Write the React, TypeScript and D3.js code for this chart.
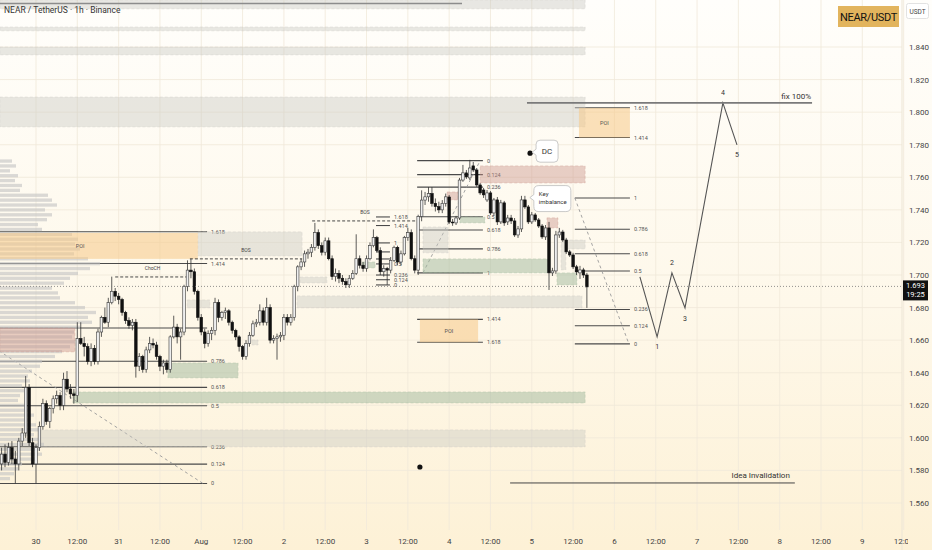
import React from "react";
import * as d3 from "d3";

const W = 932;
const H = 550;
const PLOT_R = 902;
const PLOT_B = 530;

// hour offsets are counted from Jul 30 00:00 UTC
const T0 = Date.UTC(2025, 6, 30, 0);
const HOUR = 3600 * 1000;
const at = (h: number) => new Date(T0 + h * HOUR);

// hourly candles [open, high, low, close], the first one opens at hour -10
const firstHour = -10;
const candles: [number, number, number, number][] = [
  [1.584, 1.594, 1.58, 1.59], [1.59, 1.596, 1.582, 1.585], [1.585, 1.597, 1.583, 1.594],
  [1.594, 1.598, 1.584, 1.587], [1.587, 1.592, 1.572, 1.584], [1.584, 1.6, 1.58, 1.598],
  [1.598, 1.606, 1.595, 1.603], [1.603, 1.638, 1.6, 1.631], [1.631, 1.633, 1.595, 1.597],
  [1.597, 1.6, 1.582, 1.584], [1.584, 1.596, 1.572, 1.594], [1.594, 1.61, 1.592, 1.607],
  [1.607, 1.624, 1.605, 1.621], [1.621, 1.623, 1.608, 1.61], [1.61, 1.619, 1.606, 1.618],
  [1.618, 1.626, 1.615, 1.624], [1.624, 1.629, 1.621, 1.626], [1.626, 1.628, 1.617, 1.62],
  [1.62, 1.64, 1.617, 1.636], [1.636, 1.641, 1.628, 1.63], [1.63, 1.633, 1.624, 1.627],
  [1.627, 1.63, 1.621, 1.626], [1.626, 1.671, 1.622, 1.661], [1.661, 1.671, 1.657, 1.658],
  [1.658, 1.662, 1.65, 1.656], [1.656, 1.658, 1.645, 1.647], [1.647, 1.658, 1.644, 1.655],
  [1.655, 1.657, 1.645, 1.647], [1.647, 1.667, 1.645, 1.665], [1.665, 1.675, 1.662, 1.674],
  [1.674, 1.68, 1.67, 1.671], [1.671, 1.686, 1.668, 1.683], [1.683, 1.699, 1.682, 1.69],
  [1.69, 1.692, 1.684, 1.687], [1.687, 1.689, 1.682, 1.685], [1.685, 1.686, 1.675, 1.677],
  [1.677, 1.678, 1.67, 1.672], [1.672, 1.674, 1.667, 1.669], [1.669, 1.673, 1.666, 1.671],
  [1.671, 1.673, 1.637, 1.644], [1.644, 1.652, 1.641, 1.65], [1.65, 1.651, 1.64, 1.642],
  [1.642, 1.656, 1.64, 1.654], [1.654, 1.662, 1.652, 1.658], [1.658, 1.661, 1.655, 1.657],
  [1.657, 1.659, 1.648, 1.65], [1.65, 1.651, 1.641, 1.644], [1.644, 1.648, 1.639, 1.646],
  [1.646, 1.648, 1.64, 1.642], [1.642, 1.663, 1.64, 1.662], [1.662, 1.675, 1.661, 1.668],
  [1.668, 1.67, 1.658, 1.662], [1.662, 1.667, 1.648, 1.665], [1.665, 1.694, 1.663, 1.693],
  [1.693, 1.709, 1.69, 1.703], [1.703, 1.71, 1.698, 1.702], [1.702, 1.704, 1.688, 1.69],
  [1.69, 1.691, 1.672, 1.674], [1.674, 1.676, 1.663, 1.665], [1.665, 1.667, 1.655, 1.658],
  [1.658, 1.666, 1.656, 1.664], [1.664, 1.668, 1.66, 1.666], [1.666, 1.686, 1.663, 1.683],
  [1.683, 1.685, 1.671, 1.674], [1.674, 1.678, 1.672, 1.677], [1.677, 1.68, 1.673, 1.678],
  [1.678, 1.679, 1.669, 1.671], [1.671, 1.672, 1.664, 1.666], [1.666, 1.667, 1.66, 1.662],
  [1.662, 1.663, 1.653, 1.656], [1.656, 1.657, 1.648, 1.65], [1.65, 1.66, 1.648, 1.658],
  [1.658, 1.665, 1.656, 1.663], [1.663, 1.672, 1.662, 1.67], [1.67, 1.673, 1.668, 1.671],
  [1.671, 1.682, 1.669, 1.678], [1.678, 1.68, 1.669, 1.671], [1.671, 1.686, 1.669, 1.68],
  [1.68, 1.682, 1.658, 1.66], [1.66, 1.663, 1.658, 1.661], [1.661, 1.664, 1.648, 1.662],
  [1.662, 1.665, 1.659, 1.663], [1.663, 1.676, 1.66, 1.674], [1.674, 1.676, 1.669, 1.671],
  [1.671, 1.676, 1.669, 1.674], [1.674, 1.694, 1.672, 1.693], [1.693, 1.706, 1.69, 1.705],
  [1.705, 1.71, 1.703, 1.708], [1.708, 1.715, 1.705, 1.713], [1.713, 1.716, 1.71, 1.714],
  [1.714, 1.719, 1.711, 1.717], [1.717, 1.732, 1.715, 1.726], [1.726, 1.728, 1.716, 1.718],
  [1.718, 1.72, 1.712, 1.714], [1.714, 1.723, 1.712, 1.721], [1.721, 1.723, 1.709, 1.71],
  [1.71, 1.712, 1.697, 1.699], [1.699, 1.704, 1.696, 1.701], [1.701, 1.703, 1.695, 1.698],
  [1.698, 1.7, 1.694, 1.696], [1.696, 1.698, 1.692, 1.694], [1.694, 1.7, 1.692, 1.698],
  [1.698, 1.703, 1.697, 1.701], [1.701, 1.725, 1.7, 1.71], [1.71, 1.712, 1.704, 1.706],
  [1.706, 1.708, 1.702, 1.704], [1.704, 1.712, 1.702, 1.71], [1.71, 1.72, 1.709, 1.718],
  [1.718, 1.728, 1.717, 1.723], [1.723, 1.724, 1.714, 1.715], [1.715, 1.717, 1.7, 1.702],
  [1.702, 1.706, 1.699, 1.704], [1.704, 1.705, 1.694, 1.703], [1.703, 1.711, 1.701, 1.709],
  [1.709, 1.718, 1.708, 1.717], [1.717, 1.718, 1.706, 1.708], [1.708, 1.715, 1.706, 1.713],
  [1.713, 1.724, 1.712, 1.723], [1.723, 1.729, 1.721, 1.726], [1.726, 1.728, 1.709, 1.71],
  [1.71, 1.712, 1.701, 1.703], [1.703, 1.737, 1.7, 1.736], [1.736, 1.752, 1.733, 1.746],
  [1.746, 1.751, 1.743, 1.748], [1.748, 1.754, 1.745, 1.75], [1.75, 1.754, 1.742, 1.744],
  [1.744, 1.747, 1.739, 1.742], [1.742, 1.745, 1.738, 1.74], [1.74, 1.746, 1.738, 1.744],
  [1.744, 1.75, 1.742, 1.748], [1.7479, 1.7491, 1.7313, 1.7325], [1.7325, 1.7344, 1.7302, 1.732],
  [1.732, 1.7363, 1.7307, 1.735], [1.735, 1.7596, 1.7338, 1.7583], [1.7583, 1.7676, 1.7572, 1.7627],
  [1.7627, 1.7645, 1.759, 1.7602], [1.7596, 1.7707, 1.7583, 1.7657], [1.767, 1.7694, 1.7633, 1.7645],
  [1.7645, 1.7657, 1.7541, 1.7553], [1.7553, 1.7565, 1.7492, 1.7504], [1.7522, 1.7535, 1.7473, 1.7492],
  [1.7461, 1.7522, 1.7449, 1.7504], [1.7504, 1.7516, 1.7369, 1.7381], [1.7381, 1.7473, 1.7363, 1.7461],
  [1.7461, 1.7479, 1.7307, 1.7326], [1.7326, 1.7461, 1.7313, 1.7443], [1.7443, 1.7455, 1.7302, 1.732],
  [1.7326, 1.7369, 1.7307, 1.735], [1.735, 1.7369, 1.7313, 1.7332], [1.7332, 1.735, 1.7234, 1.7246],
  [1.7246, 1.7301, 1.7228, 1.7283], [1.7283, 1.7486, 1.7264, 1.7461], [1.7461, 1.7486, 1.7406, 1.7418],
  [1.7418, 1.743, 1.7313, 1.7326], [1.7326, 1.7387, 1.7313, 1.7369], [1.7369, 1.7381, 1.7326, 1.7338],
  [1.7338, 1.735, 1.7289, 1.7301], [1.7301, 1.7313, 1.7222, 1.7234], [1.7234, 1.7307, 1.7215, 1.7289],
  [1.7289, 1.7326, 1.6908, 1.7013], [1.7013, 1.7044, 1.6994, 1.7025], [1.7025, 1.7271, 1.7007, 1.7246],
  [1.7246, 1.7289, 1.7228, 1.7264], [1.7264, 1.7277, 1.7203, 1.7215], [1.7215, 1.7228, 1.7129, 1.7142],
  [1.7142, 1.7154, 1.7111, 1.7123], [1.7123, 1.7136, 1.7037, 1.705], [1.705, 1.7062, 1.7, 1.7019],
  [1.7013, 1.7056, 1.6976, 1.7031], [1.7031, 1.7044, 1.6982, 1.7], [1.7, 1.7013, 1.6798, 1.6927],
];

const lastPrice = 1.693;
const countdown = "19:25";

const priceTicks = [1.56, 1.58, 1.6, 1.62, 1.64, 1.66, 1.68, 1.7, 1.72, 1.74, 1.76, 1.78, 1.8, 1.82, 1.84];
const timeTickLabels = [
  "30", "12:00", "31", "12:00", "Aug", "12:00", "2", "12:00", "3", "12:00", "4",
  "12:00", "5", "12:00", "6", "12:00", "7", "12:00", "8", "12:00", "9", "12:00",
];

// visible range volume profile, bins of 0.003 from 1.770 downwards
const profileTop = 1.77;
const profileStep = 0.003;
const profileVolumes = [
  12, 16, 10, 18, 15, 22, 20, 48, 52, 57, 45, 52, 47, 38, 42, 72, 78, 75, 80, 74,
  88, 100, 90, 78, 70, 64, 52, 58, 60, 75, 85, 96, 88, 92, 80, 74, 72, 75, 70, 62,
  55, 42, 40, 32, 28, 30, 22, 24, 20, 18, 26, 30, 34, 28, 36, 40, 34, 38, 44, 40,
  42, 36, 22, 18, 14, 10,
];

// zones: [fromHour, toHour, upperPrice, lowerPrice]
const greyZones = [
  [-10.5, 159.5, 1.8689, 1.8634], [-10.5, 159.5, 1.8523, 1.8499], [-10.5, 159.5, 1.84, 1.8351],
  [-10.5, 159.5, 1.8093, 1.7909], [47.0, 77.3, 1.7265, 1.7117], [112.4, 119.7, 1.7295, 1.7136],
  [153.6, 159.5, 1.7215, 1.716], [75.8, 158.6, 1.6872, 1.6798], [76.7, 84.5, 1.6988, 1.6951],
  [1.2, 159.5, 1.6049, 1.5944], [43.9, 50.5, 1.6847, 1.6798], [62.7, 64.5, 1.6601, 1.657],
  [152.5, 153.9, 1.7203, 1.7031],
];
const greenZones = [
  [112.4, 148.7, 1.7099, 1.7013], [123.1, 130.4, 1.7357, 1.732], [151.3, 157.1, 1.7013, 1.6939],
  [94.7, 98.5, 1.708, 1.7043], [38.3, 58.7, 1.646, 1.6368], [10.7, 159.5, 1.6282, 1.6214],
];
const redZones = [
  [129.0, 159.5, 1.767, 1.7565], [119.4, 122.6, 1.751, 1.7461], [148.4, 151.6, 1.7351, 1.7289],
  [-10.5, 11.3, 1.6675, 1.6528],
];
const poiZones = [
  { from: -10.5, to: 47.0, top: 1.7258, bottom: 1.7099, labelAt: 12.8 },
  { from: 157.7, to: 172.5, top: 1.8026, bottom: 1.7844, labelAt: 165.1 },
  { from: 111.5, to: 128.4, top: 1.6728, bottom: 1.6587, labelAt: 119.9 },
];

const fibRatios = [0, 0.124, 0.236, 0.5, 0.618, 0.786, 1, 1.414, 1.618];
const fibs = [
  { from: -10.5, to: 49.7, zero: 1.572, one: 1.6675, hidden: [1], diag: [[-21, 1.6675], [48.5, 1.572]] },
  { from: 110.7, to: 129.8, zero: 1.7702, one: 1.7013, hidden: [], diag: [[112.4, 1.7013], [129.0, 1.7702]] },
  { from: 156.5, to: 172.5, zero: 1.6577, one: 1.7473, hidden: [], diag: [[156.5, 1.7473], [172.2, 1.6577]] },
  { from: 98.75, to: 102.8, zero: 1.6939, one: 1.7197, hidden: [0.618, 0.786], diag: null },
];

// structure breaks: [fromHour, toHour, price, label]
const structureLines: [number, number, number, string][] = [
  [23.0, 44.7, 1.6988, "ChoCH"],
  [44.7, 77.3, 1.7099, "BOS"],
  [80.2, 110.9, 1.7332, "BOS"],
];

// projected wave count [hour, price]
const wavePath: [number, number][] = [
  [175.4, 1.6988], [180.4, 1.662], [184.7, 1.7013], [188.5, 1.6798], [199.5, 1.8057], [203.6, 1.7799],
];
const waveLabels = ["", "1", "2", "3", "4", "5"];
const waveLabelDy = [0, 12, -8, 13, -8, 12];

const targetLine = { from: 142.6, to: 225.4, price: 1.8057, text: "fix 100%" };
const invalidLine = { from: 137.7, to: 220.4, price: 1.5723, text: "Idea Invalidation" };
const dots: [number, number][] = [[143.5, 1.7748], [111.5, 1.5821]];

const x = d3.scaleUtc().domain([at(0), at(252)]).range([36, 36 + 252 * 3.443]);
const y = d3.scaleLinear().domain([1.56, 1.84]).range([503, 47]);
const vx = d3.scaleLinear().domain([0, 100]).range([0, 100]);
const xh = (h: number) => x(at(h));

const FONT = "Roboto, 'DejaVu Sans', sans-serif";

function Zone({ z, fill, opacity }: { z: number[]; fill: string; opacity: number }) {
  const [h0, h1, p0, p1] = z;
  return (
    <rect
      x={xh(h0)}
      y={y(p0)}
      width={xh(h1) - xh(h0)}
      height={y(p1) - y(p0)}
      fill={fill}
      fillOpacity={opacity}
      stroke={fill}
      strokeOpacity={0.5}
      strokeDasharray="3,2"
      strokeWidth={0.6}
    />
  );
}

export default function App() {
  const line = d3.line<[number, number]>().x((d) => xh(d[0])).y((d) => y(d[1]));
  const bodyW = 2.6;

  return (
    <div style={{ position: "fixed", left: 0, top: 0 }}>
      <svg width={W} height={H} style={{ display: "block", fontFamily: FONT }}>
        <defs>
          <linearGradient id="bg" x1="0" y1="0" x2="0" y2="1">
            <stop offset="0%" stopColor="#fffefb" />
            <stop offset="55%" stopColor="#fef8ea" />
            <stop offset="100%" stopColor="#fdf1d6" />
          </linearGradient>
          <clipPath id="plot">
            <rect x={0} y={0} width={PLOT_R} height={PLOT_B} />
          </clipPath>
          <clipPath id="timeAxis">
            <rect x={0} y={PLOT_B} width={908} height={H - PLOT_B} />
          </clipPath>
        </defs>
        <rect width={W} height={H} fill="url(#bg)" />

        {/* grid */}
        {timeTickLabels.map((_, i) => (
          <line key={"gv" + i} x1={xh(i * 12)} x2={xh(i * 12)} y1={0} y2={PLOT_B} stroke="#f0e9d9" strokeWidth={0.8} />
        ))}
        {priceTicks.map((p) => (
          <line key={"gh" + p} x1={0} x2={PLOT_R} y1={y(p)} y2={y(p)} stroke="#f0e9d9" strokeWidth={0.8} />
        ))}

        <g clipPath="url(#plot)">
          {/* fib retracements */}
          {fibs.map((f, fi) => (
            <g key={"fib" + fi}>
              {fibRatios.map((r) => {
                const p = f.zero + (f.one - f.zero) * r;
                return (
                  <g key={r}>
                    <line x1={xh(f.from)} x2={xh(f.to)} y1={y(p)} y2={y(p)} stroke="#4a4a4a" strokeWidth={1.1} />
                    {!f.hidden.includes(r) && (
                      <text x={xh(f.to) + 4} y={y(p) + 2} fontSize={5.5} fill="#555">
                        {String(r)}
                      </text>
                    )}
                  </g>
                );
              })}
              {f.diag && (
                <line
                  x1={xh(f.diag[0][0])}
                  y1={y(f.diag[0][1])}
                  x2={xh(f.diag[1][0])}
                  y2={y(f.diag[1][1])}
                  stroke="#9a9a9a"
                  strokeWidth={0.9}
                  strokeDasharray="3,3"
                />
              )}
            </g>
          ))}

          {/* volume profile */}
          {profileVolumes.map((v, i) => {
            const p = profileTop - i * profileStep;
            return (
              <rect key={"vp" + i} x={0} y={y(p) - 1.6} width={vx(v)} height={3.3} fill="#c4c4c4" fillOpacity={0.62} />
            );
          })}

          {/* zones */}
          {greyZones.map((z, i) => <Zone key={"gz" + i} z={z} fill="#c9c7c2" opacity={0.42} />)}
          {greenZones.map((z, i) => <Zone key={"grz" + i} z={z} fill="#9fb89b" opacity={0.5} />)}
          {redZones.map((z, i) => <Zone key={"rz" + i} z={z} fill="#c98f86" opacity={0.42} />)}
          {poiZones.map((z, i) => (
            <g key={"poi" + i}>
              <rect
                x={xh(z.from)}
                y={y(z.top)}
                width={xh(z.to) - xh(z.from)}
                height={y(z.bottom) - y(z.top)}
                fill="#f6c987"
                fillOpacity={0.55}
              />
              <text x={xh(z.labelAt)} y={y((z.top + z.bottom) / 2) + 2} fontSize={5.5} fill="#555" textAnchor="middle">
                POI
              </text>
            </g>
          ))}

          {/* top strip */}
          <line x1={0} x2={462} y1={3.5} y2={3.5} stroke="#8c8c8c" strokeWidth={1.6} />

          {/* structure breaks */}
          {structureLines.map(([h0, h1, p, label], i) => (
            <g key={"st" + i}>
              <line x1={xh(h0)} x2={xh(h1)} y1={y(p)} y2={y(p)} stroke="#333" strokeWidth={0.9} strokeDasharray="3,2" />
              <text x={xh((h0 + h1) / 2)} y={y(p) - 7} fontSize={5} fill="#444" textAnchor="middle">
                {label}
              </text>
            </g>
          ))}

          {/* candles */}
          {candles.map(([o, hi, lo, c], i) => {
            const cx = xh(firstHour + i);
            const bull = c >= o;
            const top = y(Math.max(o, c));
            const bh = Math.max(0.8, y(Math.min(o, c)) - top);
            return (
              <g key={"c" + i}>
                <line x1={cx} x2={cx} y1={y(hi)} y2={y(lo)} stroke="#333" strokeWidth={0.8} />
                <rect
                  x={cx - bodyW / 2}
                  y={top}
                  width={bodyW}
                  height={bh}
                  fill={bull ? "#eeeeee" : "#111"}
                  stroke={bull ? "#3a3a3a" : "#111"}
                  strokeWidth={0.6}
                />
              </g>
            );
          })}

          {/* last price line */}
          <line x1={0} x2={PLOT_R} y1={y(lastPrice)} y2={y(lastPrice)} stroke="#777" strokeWidth={0.8} strokeDasharray="1,2" />

          {/* projection */}
          <path d={line(wavePath) || ""} fill="none" stroke="#555" strokeWidth={1.1} />
          {wavePath.map((d, i) =>
            waveLabels[i] ? (
              <text key={"wl" + i} x={xh(d[0])} y={y(d[1]) + waveLabelDy[i]} fontSize={7} fill="#333" textAnchor="middle">
                {waveLabels[i]}
              </text>
            ) : null
          )}

          <line x1={xh(targetLine.from)} x2={xh(targetLine.to)} y1={y(targetLine.price)} y2={y(targetLine.price)} stroke="#7a7a7a" strokeWidth={1.6} />
          <text x={xh(targetLine.to) - 1} y={y(targetLine.price) - 4} fontSize={8} fill="#333" textAnchor="end">
            {targetLine.text}
          </text>
          <line x1={xh(invalidLine.from)} x2={xh(invalidLine.to)} y1={y(invalidLine.price)} y2={y(invalidLine.price)} stroke="#444" strokeWidth={1} />
          <text x={xh(invalidLine.to) - 5} y={y(invalidLine.price) - 5} fontSize={8} fill="#333" textAnchor="end">
            {invalidLine.text}
          </text>

          {dots.map(([h, p], i) => (
            <circle key={"d" + i} cx={xh(h)} cy={y(p)} r={2.6} fill="#111" />
          ))}

          {/* callouts */}
          <g transform={`translate(${xh(dots[0][0]) + 6},${y(dots[0][1]) - 13})`}>
            <path d="M4,0 H18 Q22,0 22,4 V18 Q22,22 18,22 H4 Q0,22 0,18 V15 L-4,12 L0,9 V4 Q0,0 4,0 Z" fill="#fff" stroke="#bdbdbd" strokeWidth={0.8} />
            <text x={11} y={14} fontSize={8} fill="#333" textAnchor="middle">DC</text>
          </g>
          <g transform={`translate(${xh(144.6)},${y(1.7549)})`}>
            <path d="M5,0 H32 Q37,0 37,5 V21 Q37,26 32,26 H5 Q0,26 0,21 V15 L-4,12 L0,9 V5 Q0,0 5,0 Z" fill="#fff" stroke="#bdbdbd" strokeWidth={0.8} />
            <text x={5} y={10} fontSize={6} fill="#333">Key</text>
            <text x={5} y={18} fontSize={6} fill="#333">imbalance</text>
          </g>

          {/* header */}
          <text x={4} y={13} fontSize={8.5} fill="#333">NEAR / TetherUS · 1h · Binance</text>
          <rect x={838} y={6} width={61} height={21} fill="#e2b45d" />
          <text x={868.5} y={20.5} fontSize={11} fill="#111" textAnchor="middle" letterSpacing={-0.3}>NEAR/USDT</text>
        </g>

        {/* price axis */}
        <line x1={PLOT_R} x2={PLOT_R} y1={0} y2={H} stroke="#ece5d5" strokeWidth={1} />
        {priceTicks.map((p) => (
          <text key={"pt" + p} x={909} y={y(p) + 3} fontSize={8} fill="#444">
            {d3.format(".3f")(p)}
          </text>
        ))}
        <rect x={906.5} y={3.5} width={22} height={15} rx={2} fill="#fff" stroke="#e2e2e2" />
        <text x={917.5} y={13.5} fontSize={6.5} fill="#444" textAnchor="middle">USDT</text>
        <rect x={903} y={y(lastPrice) - 6} width={25} height={20} fill="#111" />
        <text x={915.5} y={y(lastPrice) + 2} fontSize={7.5} fill="#fff" textAnchor="middle">{d3.format(".3f")(lastPrice)}</text>
        <text x={915.5} y={y(lastPrice) + 11} fontSize={7.5} fill="#fff" textAnchor="middle">{countdown}</text>

        {/* time axis */}
        <g clipPath="url(#timeAxis)">
          {timeTickLabels.map((l, i) => (
            <text key={"tt" + i} x={xh(i * 12)} y={544} fontSize={8} fill="#444" textAnchor="middle">
              {l}
            </text>
          ))}
        </g>
      </svg>
    </div>
  );
}
